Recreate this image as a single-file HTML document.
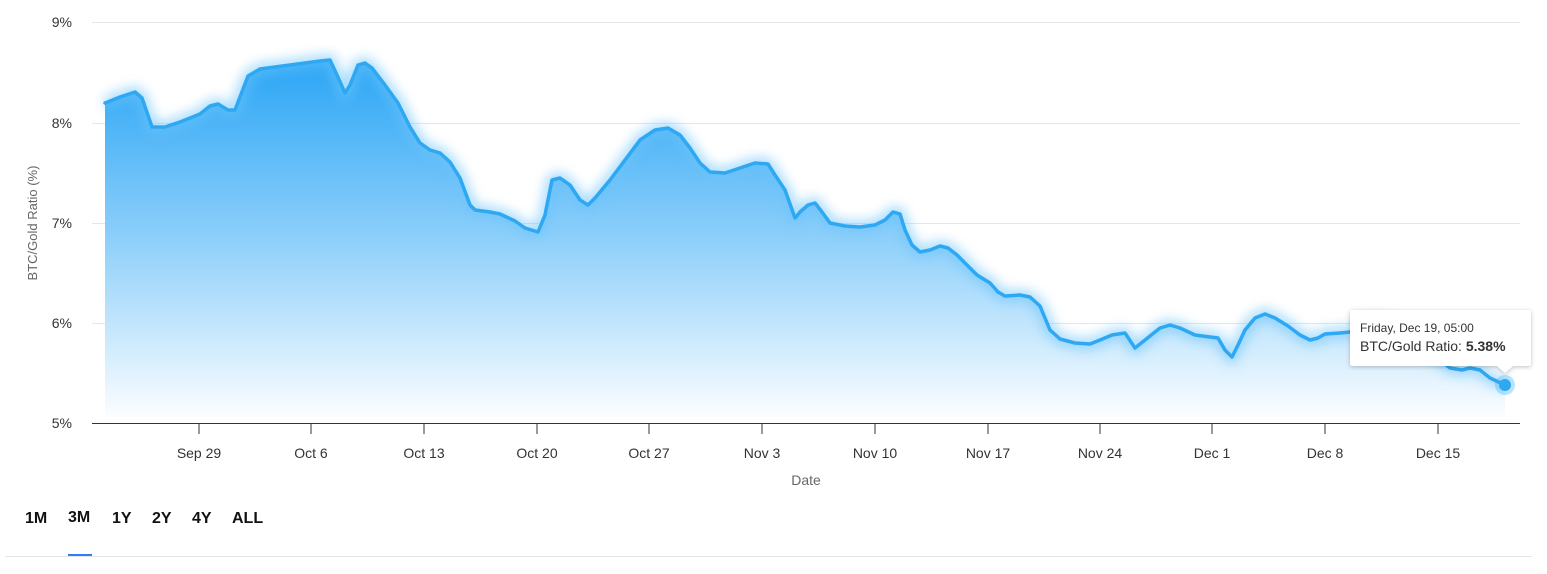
<!DOCTYPE html>
<html><head><meta charset="utf-8"><style>
body{margin:0;background:#fff;width:1547px;height:574px;overflow:hidden;font-family:"Liberation Sans",sans-serif}
.t{position:absolute;top:510px;font-weight:bold;font-size:16px;color:#111}
</style></head><body>
<svg width="1547" height="574" style="position:absolute;left:0;top:0" font-family="Liberation Sans, sans-serif">
<defs>
<linearGradient id="g" x1="0" y1="0" x2="0" y2="1">
<stop offset="0" stop-color="#2aa5f5"/><stop offset="0.5" stop-color="#8fd0fa"/><stop offset="1" stop-color="#ffffff"/>
</linearGradient>
<filter id="sh" x="-5%" y="-5%" width="110%" height="120%"><feGaussianBlur stdDeviation="6"/></filter>
<filter id="ts"><feDropShadow dx="0" dy="1" stdDeviation="2" flood-color="#000" flood-opacity="0.25"/></filter>
</defs>
<g stroke="#e6e6e6" stroke-width="1">
<line x1="92" y1="22.5" x2="1520" y2="22.5"/><line x1="92" y1="123.5" x2="1520" y2="123.5"/>
<line x1="92" y1="223.5" x2="1520" y2="223.5"/><line x1="92" y1="323.5" x2="1520" y2="323.5"/>
</g>
<g font-size="14" fill="#333" text-anchor="end">
<text x="72" y="27">9%</text><text x="72" y="128">8%</text><text x="72" y="228">7%</text><text x="72" y="328">6%</text><text x="72" y="428">5%</text>
</g>
<text transform="translate(37,223) rotate(-90)" font-size="13" fill="#666" text-anchor="middle">BTC/Gold Ratio (%)</text>
<polygon fill="url(#g)" points="105,423 105,103 120,97 135,92 142,98 152,127 165,127 180,122 200,114 210,106 218,104 228,110 235,110 248,76 260,69 290,65 320,61 330,60 337,75 345,93 350,85 358,65 365,63 372,68 385,85 398,103 410,127 420,143 430,150 440,153 450,162 460,178 470,205 475,210 490,212 500,214 515,221 525,228 538,232 545,215 552,180 560,178 570,185 580,200 588,205 595,198 610,180 625,160 640,140 655,130 668,128 680,135 690,148 700,163 710,172 725,173 740,168 755,163 768,164 775,175 785,190 795,218 800,212 808,205 815,203 822,212 830,223 845,226 860,227 875,225 885,220 893,212 900,214 905,230 912,245 920,252 930,250 940,246 948,248 957,255 967,265 977,275 990,283 998,292 1005,296 1020,295 1030,297 1040,306 1050,330 1060,339 1075,343 1090,344 1100,340 1112,335 1125,333 1135,348 1145,340 1160,328 1170,325 1180,328 1195,335 1210,337 1218,338 1225,350 1232,357 1238,345 1245,330 1255,318 1265,314 1275,318 1288,326 1300,335 1310,340 1318,338 1325,334 1340,333 1350,332 1365,322 1380,322 1400,330 1420,342 1440,360 1450,368 1462,370 1470,368 1480,370 1490,378 1505,385 1505,423"/>
<polyline filter="url(#sh)" fill="none" stroke="#6cc4fb" stroke-width="10" opacity="0.7" points="105,103 120,97 135,92 142,98 152,127 165,127 180,122 200,114 210,106 218,104 228,110 235,110 248,76 260,69 290,65 320,61 330,60 337,75 345,93 350,85 358,65 365,63 372,68 385,85 398,103 410,127 420,143 430,150 440,153 450,162 460,178 470,205 475,210 490,212 500,214 515,221 525,228 538,232 545,215 552,180 560,178 570,185 580,200 588,205 595,198 610,180 625,160 640,140 655,130 668,128 680,135 690,148 700,163 710,172 725,173 740,168 755,163 768,164 775,175 785,190 795,218 800,212 808,205 815,203 822,212 830,223 845,226 860,227 875,225 885,220 893,212 900,214 905,230 912,245 920,252 930,250 940,246 948,248 957,255 967,265 977,275 990,283 998,292 1005,296 1020,295 1030,297 1040,306 1050,330 1060,339 1075,343 1090,344 1100,340 1112,335 1125,333 1135,348 1145,340 1160,328 1170,325 1180,328 1195,335 1210,337 1218,338 1225,350 1232,357 1238,345 1245,330 1255,318 1265,314 1275,318 1288,326 1300,335 1310,340 1318,338 1325,334 1340,333 1350,332 1365,322 1380,322 1400,330 1420,342 1440,360 1450,368 1462,370 1470,368 1480,370 1490,378 1505,385"/>
<polyline fill="none" stroke="#2ea8f2" stroke-width="3.5" stroke-linejoin="round" stroke-linecap="round" points="105,103 120,97 135,92 142,98 152,127 165,127 180,122 200,114 210,106 218,104 228,110 235,110 248,76 260,69 290,65 320,61 330,60 337,75 345,93 350,85 358,65 365,63 372,68 385,85 398,103 410,127 420,143 430,150 440,153 450,162 460,178 470,205 475,210 490,212 500,214 515,221 525,228 538,232 545,215 552,180 560,178 570,185 580,200 588,205 595,198 610,180 625,160 640,140 655,130 668,128 680,135 690,148 700,163 710,172 725,173 740,168 755,163 768,164 775,175 785,190 795,218 800,212 808,205 815,203 822,212 830,223 845,226 860,227 875,225 885,220 893,212 900,214 905,230 912,245 920,252 930,250 940,246 948,248 957,255 967,265 977,275 990,283 998,292 1005,296 1020,295 1030,297 1040,306 1050,330 1060,339 1075,343 1090,344 1100,340 1112,335 1125,333 1135,348 1145,340 1160,328 1170,325 1180,328 1195,335 1210,337 1218,338 1225,350 1232,357 1238,345 1245,330 1255,318 1265,314 1275,318 1288,326 1300,335 1310,340 1318,338 1325,334 1340,333 1350,332 1365,322 1380,322 1400,330 1420,342 1440,360 1450,368 1462,370 1470,368 1480,370 1490,378 1505,385"/>
<line x1="92" y1="423.5" x2="1520" y2="423.5" stroke="#333" stroke-width="1"/>
<g stroke="#333"><line x1="199" y1="424" x2="199" y2="434"/><line x1="311" y1="424" x2="311" y2="434"/><line x1="424" y1="424" x2="424" y2="434"/><line x1="537" y1="424" x2="537" y2="434"/><line x1="649" y1="424" x2="649" y2="434"/><line x1="762" y1="424" x2="762" y2="434"/><line x1="875" y1="424" x2="875" y2="434"/><line x1="988" y1="424" x2="988" y2="434"/><line x1="1100" y1="424" x2="1100" y2="434"/><line x1="1212" y1="424" x2="1212" y2="434"/><line x1="1325" y1="424" x2="1325" y2="434"/><line x1="1438" y1="424" x2="1438" y2="434"/></g>
<g font-size="14" fill="#333" text-anchor="middle">
<text x="199" y="458">Sep 29</text><text x="311" y="458">Oct 6</text><text x="424" y="458">Oct 13</text><text x="537" y="458">Oct 20</text><text x="649" y="458">Oct 27</text><text x="762" y="458">Nov 3</text><text x="875" y="458">Nov 10</text><text x="988" y="458">Nov 17</text><text x="1100" y="458">Nov 24</text><text x="1212" y="458">Dec 1</text><text x="1325" y="458">Dec 8</text><text x="1438" y="458">Dec 15</text>
</g>
<text x="806" y="485" font-size="14" fill="#666" text-anchor="middle">Date</text>
<circle cx="1505" cy="385" r="10" fill="#2ea8f2" opacity="0.3"/>
<circle cx="1505" cy="385" r="6" fill="#2ea8f2"/>
<path filter="url(#ts)" d="M1353,310 H1528 Q1531,310 1531,313 V363 Q1531,366 1528,366 H1513 L1505,373 L1497,366 H1353 Q1350,366 1350,363 V313 Q1350,310 1353,310 Z" fill="#fff"/>
<text x="1360" y="332" font-size="12" fill="#333">Friday, Dec 19, 05:00</text>
<text x="1360" y="351" font-size="14" fill="#333">BTC/Gold Ratio: <tspan font-weight="bold">5.38%</tspan></text>
<rect x="68" y="554" width="24" height="2" fill="#2d7ff9"/>
<rect x="5" y="556" width="1527" height="1" fill="#e5e5e5"/>
</svg>
<div class="t" style="left:25px">1M</div><div class="t" style="left:68px;top:509px">3M</div><div class="t" style="left:112px">1Y</div><div class="t" style="left:152px">2Y</div><div class="t" style="left:192px">4Y</div><div class="t" style="left:232px">ALL</div>
</body></html>
